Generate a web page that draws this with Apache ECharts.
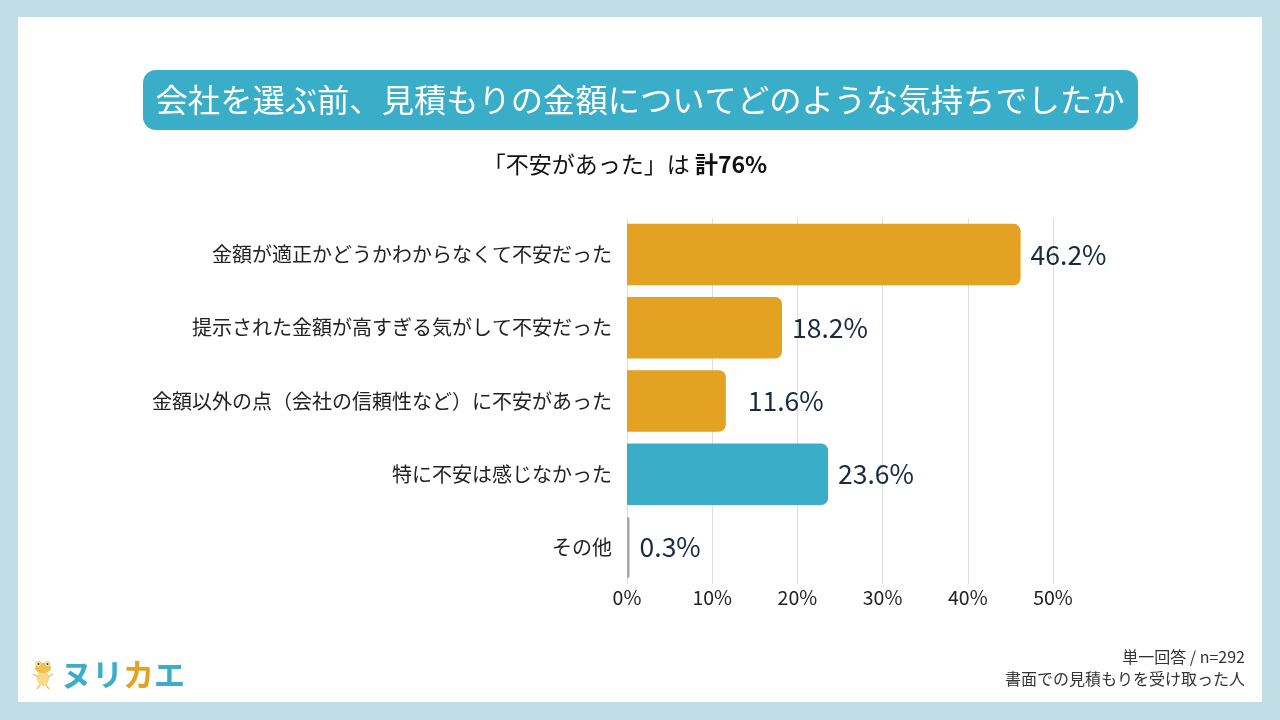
<!DOCTYPE html>
<html>
<head>
<meta charset="utf-8">
<script src="https://cdn.jsdelivr.net/npm/echarts@6/dist/echarts.min.js"></script>
<style>
  html, body { margin: 0; padding: 0; }
  #chart { width: 1280px; height: 720px; }
</style>
</head>
<body>
<div id="chart"></div>
<script>
// 選択肢
var categories = [
  "金額が適正かどうかわからなくて不安だった",
  "提示された金額が高すぎる気がして不安だった",
  "金額以外の点（会社の信頼性など）に不安があった",
  "特に不安は感じなかった",
  "その他"
];
// 回答割合（%）
var values = [46.2, 18.2, 11.6, 23.6, 0.3];
// x軸の目盛
var xTicks = [0, 10, 20, 30, 40, 50];

var titleText = "会社を選ぶ前、見積もりの金額についてどのような気持ちでしたか";
var noteLines = ["単一回答 / n=292", "書面での見積もりを受け取った人"];

window.addEventListener("load", function () {
  var myChart = echarts.init(document.getElementById("chart"));
  var font = "'Noto Sans CJK JP', 'Noto Sans', sans-serif";

  // バーの色：不安あり=オレンジ、不安なし=青、その他=グレー
  var barColors = ["#e3a222", "#e3a222", "#e3a222", "#3aaec8", "#a9a9a9"];

  var barData = values.map(function (v, i) {
    var item = {
      value: v,
      itemStyle: { color: barColors[i] }
    };
    if (i === 2) {
      item.label = { distance: 22 };
    }
    return item;
  });

  var option = {
    backgroundColor: "#c0dde6",
    textStyle: { fontFamily: font },
    grid: {
      left: 627,
      right: 227,
      top: 218,
      bottom: 136
    },
    xAxis: {
      type: "value",
      min: xTicks[0],
      max: xTicks[xTicks.length - 1],
      interval: 10,
      axisLine: { show: false },
      axisTick: { show: false },
      axisLabel: {
        formatter: "{value}%",
        color: "#222",
        fontSize: 19.5,
        margin: 4
      },
      splitLine: {
        lineStyle: { color: "#dedede", width: 1 }
      }
    },
    yAxis: {
      type: "category",
      inverse: true,
      data: categories,
      axisLine: { show: false },
      axisTick: { show: false },
      axisLabel: {
        color: "#222",
        fontSize: 20,
        margin: 15
      }
    },
    series: [
      {
        type: "bar",
        data: barData,
        barCategoryGap: "16%",
        itemStyle: {
          borderRadius: [0, 7, 7, 0]
        },
        label: {
          show: true,
          position: "right",
          distance: 10,
          formatter: "{c}%",
          color: "#1b2a3f",
          fontSize: 26.5
        }
      }
    ],
    graphic: [
      // 白いパネル
      {
        type: "rect",
        z: -10,
        shape: { x: 18, y: 17, width: 1244, height: 685 },
        style: { fill: "#ffffff" }
      },
      // タイトル帯
      {
        type: "rect",
        shape: { x: 143, y: 70, width: 995, height: 60, r: 13 },
        style: { fill: "#3aaec8" }
      },
      {
        type: "text",
        x: 640,
        y: 100,
        style: {
          text: titleText,
          fill: "#ffffff",
          font: "32.3px " + font,
          align: "center",
          verticalAlign: "middle"
        }
      },
      // サブタイトル
      {
        type: "text",
        x: 625,
        y: 164,
        style: {
          text: "{a|「不安があった」は }{b|計76%}",
          align: "center",
          verticalAlign: "middle",
          rich: {
            a: { fontSize: 23, fontFamily: font, fill: "#111" },
            b: { fontSize: 23, fontFamily: font, fontWeight: "bold", fill: "#111" }
          }
        }
      },
      // 注記
      {
        type: "text",
        x: 1245,
        y: 657,
        style: {
          text: noteLines[0],
          fill: "#333",
          font: "16px " + font,
          align: "right",
          verticalAlign: "middle"
        }
      },
      {
        type: "text",
        x: 1245,
        y: 679,
        style: {
          text: noteLines[1],
          fill: "#333",
          font: "16px " + font,
          align: "right",
          verticalAlign: "middle"
        }
      },
      // ロゴ（カエル）
      {
        type: "group",
        x: 43,
        y: 674,
        children: [
          { type: "ellipse", shape: { cx: 0, cy: 4, rx: 6, ry: 8 }, style: { fill: "#f9d98a" } },
          { type: "ellipse", shape: { cx: 0, cy: -6, rx: 8, ry: 5 }, style: { fill: "#f0bf4c" } },
          { type: "circle", shape: { cx: -4.5, cy: -10, r: 2.6 }, style: { fill: "#ffffff", stroke: "#f0bf4c" } },
          { type: "circle", shape: { cx: 4.5, cy: -10, r: 2.6 }, style: { fill: "#ffffff", stroke: "#f0bf4c" } },
          { type: "circle", shape: { cx: -4.5, cy: -10, r: 1.1 }, style: { fill: "#333" } },
          { type: "circle", shape: { cx: 4.5, cy: -10, r: 1.1 }, style: { fill: "#333" } },
          { type: "line", shape: { x1: -5, y1: 3, x2: -10, y2: 0 }, style: { stroke: "#f0bf4c", lineWidth: 1.3 } },
          { type: "line", shape: { x1: 5, y1: 3, x2: 10, y2: 0 }, style: { stroke: "#f0bf4c", lineWidth: 1.3 } },
          { type: "line", shape: { x1: -3, y1: 11, x2: -6, y2: 15 }, style: { stroke: "#f0bf4c", lineWidth: 1.3 } },
          { type: "line", shape: { x1: 3, y1: 11, x2: 6, y2: 15 }, style: { stroke: "#f0bf4c", lineWidth: 1.3 } }
        ]
      },
      // ロゴ文字
      {
        type: "text",
        x: 61,
        y: 674,
        style: {
          text: "{t|ヌリ}{o|カ}{t|エ}",
          verticalAlign: "middle",
          rich: {
            t: { fontSize: 31, fontWeight: "bold", fontFamily: font, fill: "#3aaec8" },
            o: { fontSize: 31, fontWeight: "bold", fontFamily: font, fill: "#e3a222" }
          }
        }
      }
    ]
  };

  myChart.setOption(option);
  window.addEventListener("resize", function () {
    myChart.resize();
  });
});
</script>
</body>
</html>
